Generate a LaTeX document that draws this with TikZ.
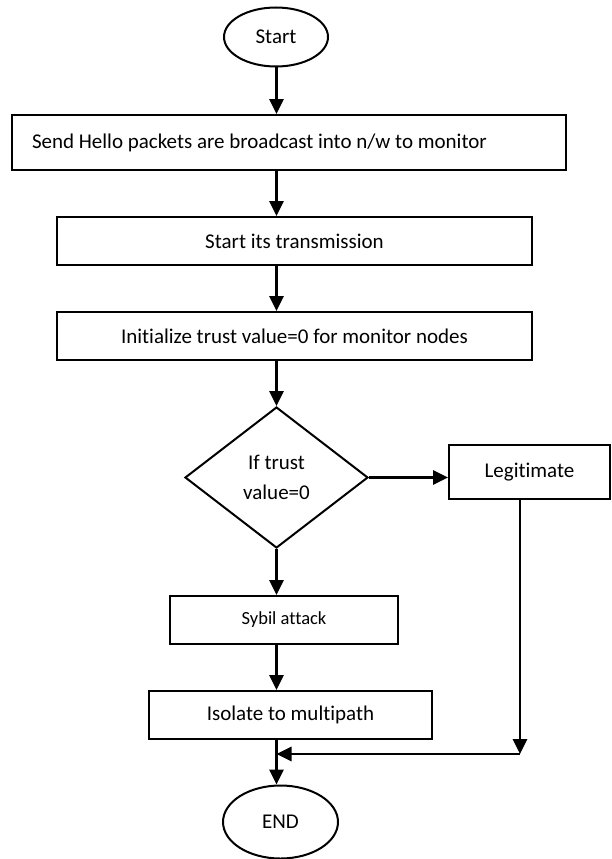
\documentclass[tikz,border=0pt]{standalone}
\usepackage{fontspec}
\setmainfont{Carlito}[Ligatures=NoCommon]
\usetikzlibrary{arrows.meta,shapes.geometric}
\begin{document}
\begin{tikzpicture}[x=1pt,y=-1pt,
  every node/.style={font=\fontsize{21}{30}\selectfont, inner sep=0pt},
  box/.style={draw, line width=2pt, rectangle},
  term/.style={draw, line width=2pt, ellipse},
  decision/.style={draw, line width=2pt, diamond, align=flush center},
  arr/.style={line width=2.8pt, -{Triangle[length=15pt,width=14pt]}}]
\useasboundingbox (0,0) rectangle (611,859);

% flow steps
\node[term, minimum width=104pt, minimum height=59pt] (start) at (276,37) {Start};
\node[box, minimum height=55pt, text width=514pt, inner xsep=20pt, align=flush left] (send) at (289,142.5)
  {Send Hello packets are broadcast into n/w to monitor};
\node[box, minimum width=475pt, minimum height=48pt] (trans) at (294.5,241) {Start its transmission};
\node[box, minimum width=475pt, minimum height=48pt] (init) at (294.5,336) {Initialize trust value=0 for monitor nodes};
\node[decision, minimum width=183pt, minimum height=141pt] (dec) at (276.5,477.5) {If trust\\value=0};
\node[box, minimum width=161pt, minimum height=54pt] (legit) at (529.5,472) {Legitimate};
\node[box, minimum width=228pt, minimum height=48pt, font=\fontsize{18.5}{22}\selectfont] (sybil) at (284,620) {Sybil attack};
\node[box, minimum width=283pt, minimum height=48pt] (iso) at (290.5,715) {Isolate to multipath};
\node[term, minimum width=115pt, minimum height=73pt] (end) at (280.5,822) {END};
\coordinate (turn) at (520,754);

% connectors along the main column
\draw[arr] (start.south -| dec) -- (send.north -| dec);
\draw[arr] (send.south -| dec) -- (trans.north -| dec);
\draw[arr] (trans.south -| dec) -- (init.north -| dec);
\draw[arr] (init.south -| dec) -- (dec.north);
\draw[arr] (dec.south) -- (sybil.north -| dec);
\draw[arr] (sybil.south -| dec) -- (iso.north -| dec);
\draw[arr] (iso.south -| dec) -- (end.north -| dec);

% branch for legitimate nodes
\draw[arr] (dec.east) -- (dec.east -| legit.west);
\draw[arr] (legit.south -| turn) -- (turn);
\draw[arr] (turn) -- (turn -| dec);
\end{tikzpicture}
\end{document}
